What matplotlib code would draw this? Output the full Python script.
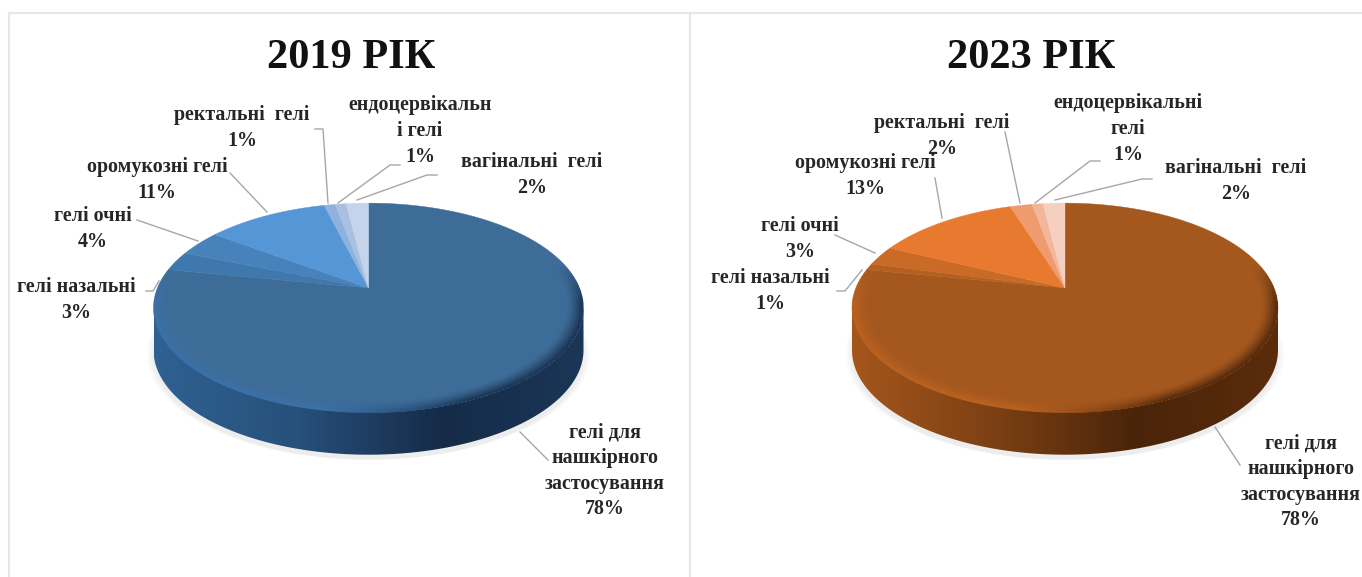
"""Two pseudo-3D pie charts of gel dosage forms, 2019 vs 2023."""

import numpy as np
import matplotlib
matplotlib.use('Agg')
import matplotlib.pyplot as plt
from matplotlib.patches import Polygon
from matplotlib.colors import to_rgb

categories_2019 = ['гелі для\nнашкірного\nзастосування', 'гелі назальні', 'гелі очні',
                   'оромукозні гелі', 'ректальні  гелі', 'ендоцервікальн\nі гелі', 'вагінальні  гелі']
categories_2023 = ['гелі для\nнашкірного\nзастосування', 'гелі назальні', 'гелі очні',
                   'оромукозні гелі', 'ректальні  гелі', 'ендоцервікальні\nгелі', 'вагінальні  гелі']
values_2019 = [78, 3, 4, 11, 1, 1, 2]
values_2023 = [78, 1, 3, 13, 2, 1, 2]

colors_2019 = ['#3e6c98', '#3f78ad', '#4882ba', '#5597d6', '#8fb2dc', '#a9c0e0', '#c5d4ea']
colors_2023 = ['#a5581e', '#b5601f', '#c96a26', '#e87a2f', '#ef9a6f', '#f2b79a', '#f5cfbf']

# side wall gradient stops, left to right
side_2019 = ['#2f6192', '#27507b', '#152b48', '#1b3657']
side_2023 = ['#a5561c', '#7c4014', '#4a2409', '#5a2c0c']

# label centres and leader polylines, in pixels, same order as the categories
label_pos_2019 = [(605, 471), (76, 300), (93, 229), (157, 180), (242, 128), (420, 131), (532, 175)]
label_pos_2023 = [(1301, 482), (770, 291), (800, 239), (865, 176), (942, 136), (1128, 129), (1236, 181)]
leaders_2019 = [[(520, 432), (548, 460)], [(146, 291), (153, 291), (159, 281)], [(137, 220), (198, 241)],
                [(230, 173), (267, 212)], [(315, 129), (323, 129), (328, 203)],
                [(400, 165), (390, 165), (338, 203)], [(437, 175), (427, 175), (357, 200)]]
leaders_2023 = [[(1215, 427), (1240, 465)], [(837, 291), (845, 291), (862, 270)], [(835, 235), (875, 253)],
                [(935, 178), (942, 218)], [(1005, 132), (1020, 203)],
                [(1100, 161), (1090, 161), (1035, 203)], [(1152, 179), (1142, 179), (1055, 200)]]

W, H = 1362, 577
APEX_Y = 288
DEPTH = 42
TILT = 0.19
FONT = 'Liberation Serif'


def project(theta, cx, rx, r=1.0):
    """Map a clockwise-from-north angle on the disc to pixels, with perspective."""
    a = 101.0
    s = rx * np.sqrt(1 - TILT ** 2)
    u, v = r * np.sin(theta), r * np.cos(theta)
    d = 1 + TILT * v
    return cx + s * u / d, APEX_Y - a * v / d


def gradient(stops, n=256):
    pos = np.linspace(0, 1, len(stops))
    rgb = np.array([to_rgb(c) for c in stops])
    t = np.linspace(0, 1, n)
    return np.stack([np.interp(t, pos, rgb[:, i]) for i in range(3)], axis=1)


def draw_pie(ax, values, colors, side_stops, cx, rx):
    theta = np.linspace(0, 2 * np.pi, 721)
    x, y = project(theta, cx, rx)

    # soft shadow below the disc
    for grow in np.linspace(1.03, 1.0, 6):
        ax.add_patch(Polygon(np.column_stack([cx + (x - cx) * grow, y + DEPTH + 5]),
                             fc='#8a8a8a', ec='none', alpha=0.025, zorder=1))

    # side wall: lower rim from the left extreme round the front to the right extreme
    left, right = np.argmin(x), np.argmax(x)
    idx = np.arange(right, left + 1) if right < left else np.r_[right:len(x), 0:left + 1]
    wall = np.column_stack([x[idx], y[idx] + DEPTH])
    outline = np.vstack([[x[right], y[right]], wall, [x[left], y[left]]])
    clip = Polygon(outline, fc='none', ec='none', transform=ax.transData)
    ax.add_patch(clip)
    img = ax.imshow(gradient(side_stops)[None, :, :],
                    extent=(cx - rx, cx + rx, H, 0), aspect='auto', zorder=2)
    img.set_clip_path(clip)

    # top face slices, starting at north and running clockwise
    edges = np.cumsum([0] + list(values)) / sum(values) * 2 * np.pi
    for start, stop, color in zip(edges[:-1], edges[1:], colors):
        t = np.linspace(start, stop, max(3, int((stop - start) * 120)))
        px, py = project(t, cx, rx)
        pts = np.vstack([[cx, APEX_Y], np.column_stack([px, py])])
        ax.add_patch(Polygon(pts, fc=color, ec=color, lw=0.3, zorder=3))

    # bevel along the front rim: light towards the left, dark towards the right
    gx = np.arange(int(cx - rx) - 2, int(cx + rx) + 3)
    gy = np.arange(195, 425)
    xx, yy = np.meshgrid(gx + 0.5, gy + 0.5)
    s = rx * np.sqrt(1 - TILT ** 2)
    yr = APEX_Y - yy
    v = yr / (101.0 - TILT * yr)
    u = (xx - cx) * (1 + TILT * v) / s
    r = np.hypot(u, v)
    w = np.clip((r - 0.92) / 0.07, 0, 1) ** 1.5 * np.clip((0.25 - v) / 0.4, 0, 1)
    w[r > 1.0] = 0
    side = np.array([to_rgb(c) for c in side_stops])
    lit = np.minimum(side[0] * 1.2, 1.0)
    dark = side[2]
    mix = np.clip((xx - cx) / (0.7 * rx) + 0.3, 0, 1)[..., None]
    alpha = w * (0.6 * (1 - mix[..., 0]) + 0.8 * mix[..., 0])
    rgba = np.dstack([lit * (1 - mix) + dark * mix, alpha])
    ax.imshow(rgba, extent=(gx[0], gx[-1] + 1, gy[-1] + 1, gy[0]), aspect='auto', zorder=4)


def draw_labels(ax, categories, values, positions, leaders):
    for name, val, (lx, ly), leader in zip(categories, values, positions, leaders):
        ax.text(lx, ly, f'{name}\n{val}%', ha='center', va='center', family=FONT,
                fontweight='bold', fontsize=14.4, color='#262626', linespacing=1.37, zorder=6)
        pts = np.array(leader)
        ax.plot(pts[:, 0], pts[:, 1], color='#a6a6a6', lw=1, zorder=5)


fig = plt.figure(figsize=(W / 100, H / 100), dpi=100)
ax = fig.add_axes([0, 0, 1, 1])

# panel frames
for xs, ys in [((9, 9), (577, 13)), ((9, 1362), (13, 13)), ((690, 690), (13, 577))]:
    ax.plot(xs, ys, color='#e6e6e6', lw=1.5, zorder=0)

draw_pie(ax, values_2019, colors_2019, side_2019, 368.5, 215)
draw_pie(ax, values_2023, colors_2023, side_2023, 1065, 213)
draw_labels(ax, categories_2019, values_2019, label_pos_2019, leaders_2019)
draw_labels(ax, categories_2023, values_2023, label_pos_2023, leaders_2023)

ax.text(351, 58, '2019 РІК', ha='center', va='center', family=FONT, fontweight='bold', fontsize=30.5, color='#111111')
ax.text(1031, 58, '2023 РІК', ha='center', va='center', family=FONT, fontweight='bold', fontsize=30.5, color='#111111')

ax.set_xlim(0, W)
ax.set_ylim(H, 0)
ax.axis('off')
fig.savefig('out.png', dpi=100)
